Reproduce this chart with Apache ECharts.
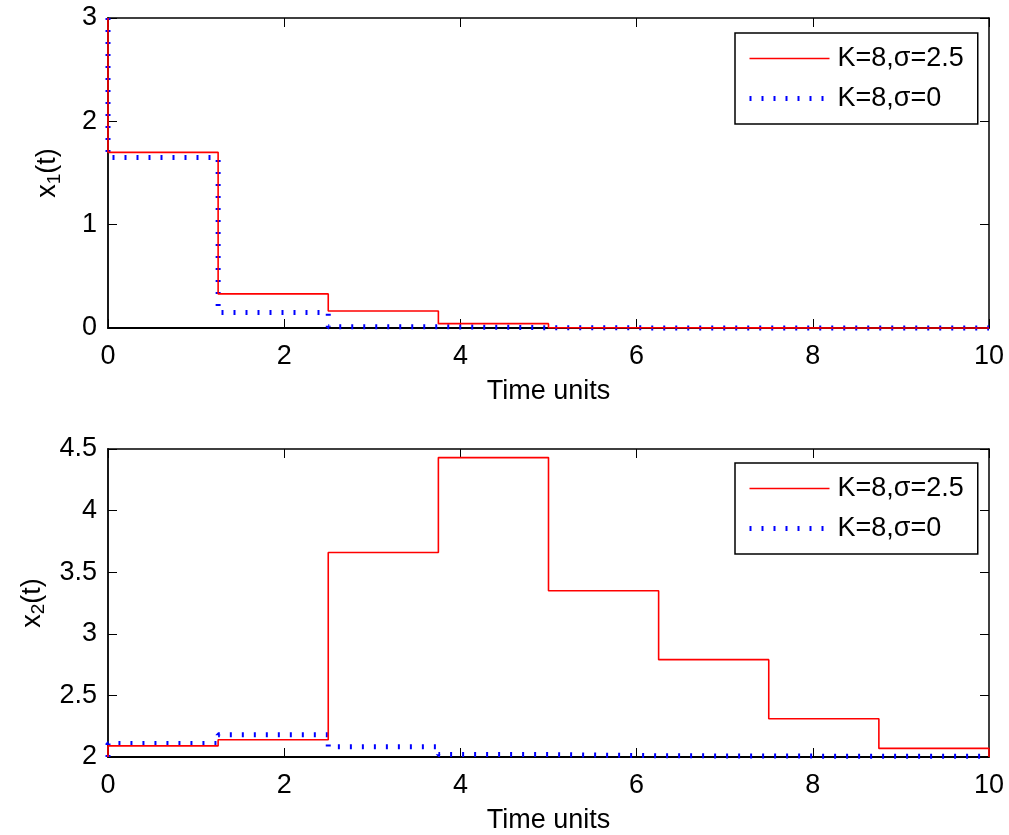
<!DOCTYPE html>
<html>
<head>
<meta charset="utf-8">
<script src="https://cdn.jsdelivr.net/npm/echarts@6/dist/echarts.min.js"></script>
<style>html,body{margin:0;padding:0;background:#fff;}#c{width:1009px;height:835px;}</style>
</head>
<body>
<div id="c"></div>
<script>
const timeSteps = [0, 0, 1.25, 2.5, 3.75, 5, 6.25, 7.5, 8.75, 10];
const x1Sigma25 = [3, 1.70, 0.33, 0.165, 0.042, 0.003, 0.001, 0, 0, 0];
const x1Sigma0  = [3, 1.65, 0.15, 0.012, 0.003, 0.001, 0, 0, 0, 0];
const x2Sigma25 = [2, 2.09, 2.14, 3.66, 4.43, 3.35, 2.79, 2.31, 2.07, 2.0];
const x2Sigma0  = [2, 2.11, 2.18, 2.083, 2.02, 2.01, 2.008, 2.006, 2.005, 2.005];
const seriesNames = ['K=8,σ=2.5', 'K=8,σ=0'];
const xTicks = {min: 0, max: 10, interval: 2};
const y1Ticks = {min: 0, max: 3, interval: 1};
const y2Ticks = {min: 2, max: 4.5, interval: 0.5};

const FONT = 'Liberation Sans, Arial, sans-serif';
const FS = 27;
const pairs = (vals) => timeSteps.map((t, i) => [t, vals[i]]);

const redStyle = {color: '#ff0000', width: 1.6};
const blueStyle = {color: '#0000ff', width: 5, type: [2, 10], cap: 'butt'};

function mainX(grid) {
  return {
    type: 'value', gridIndex: grid, min: xTicks.min, max: xTicks.max, interval: xTicks.interval,
    name: 'Time units', nameLocation: 'middle', nameGap: 50,
    nameTextStyle: {fontFamily: FONT, fontSize: FS, color: '#000'},
    axisLine: {show: true, onZero: false, lineStyle: {color: '#000', width: 1.8}},
    axisTick: {show: true, inside: true, length: 9, lineStyle: {color: '#000', width: 1}},
    axisLabel: {fontFamily: FONT, fontSize: FS, color: '#000', margin: 15},
    splitLine: {show: false}
  };
}
function boxX(grid) {
  return {
    type: 'value', gridIndex: grid, position: 'top', min: xTicks.min, max: xTicks.max, interval: xTicks.interval,
    axisLine: {show: true, onZero: false, lineStyle: {color: '#000', width: 1.5}},
    axisTick: {show: true, inside: true, length: 9, lineStyle: {color: '#000', width: 1}},
    axisLabel: {show: false}, splitLine: {show: false}
  };
}
function mainY(grid, ticks, sub, gap) {
  return {
    type: 'value', gridIndex: grid, min: ticks.min, max: ticks.max, interval: ticks.interval,
    name: '{a|x}{s|' + sub + '}{a|(t)}', nameLocation: 'middle', nameGap: gap, nameRotate: 90,
    nameTextStyle: {
      fontFamily: FONT, fontSize: FS, color: '#000',
      rich: {
        a: {fontFamily: FONT, fontSize: FS, color: '#000'},
        s: {fontFamily: FONT, fontSize: 19, color: '#000', verticalAlign: 'bottom', padding: [14, 0, 0, 0]}
      }
    },
    axisLine: {show: true, onZero: false, lineStyle: {color: '#000', width: 1.8}},
    axisTick: {show: true, inside: true, length: 9, lineStyle: {color: '#000', width: 1}},
    axisLabel: {fontFamily: FONT, fontSize: FS, color: '#000', margin: 11},
    splitLine: {show: false}
  };
}
function boxY(grid, ticks) {
  return {
    type: 'value', gridIndex: grid, position: 'right', min: ticks.min, max: ticks.max, interval: ticks.interval,
    axisLine: {show: true, onZero: false, lineStyle: {color: '#000', width: 1.5}},
    axisTick: {show: true, inside: true, length: 9, lineStyle: {color: '#000', width: 1}},
    axisLabel: {show: false}, splitLine: {show: false}
  };
}
function stepSeries(name, vals, xi, yi, style) {
  return {
    name: name, type: 'line', step: 'end', xAxisIndex: xi, yAxisIndex: yi,
    data: pairs(vals), symbol: 'none', showSymbol: false, clip: false, z: 5,
    lineStyle: style, itemStyle: {color: style.color}, animation: false
  };
}
function legendAt(top) {
  return {
    data: [
      {name: seriesNames[0], itemStyle: {opacity: 0}, lineStyle: {color: '#ff0000', width: 1.4}},
      {name: seriesNames[1], itemStyle: {opacity: 0}, lineStyle: {color: '#0000ff', width: 5, type: [2, 10], cap: 'butt'}}
    ],
    orient: 'vertical', left: 735, top: top,
    backgroundColor: '#fff', borderColor: '#000', borderWidth: 1.5, borderRadius: 0,
    padding: [12, 14, 12, 12], itemGap: 13, itemWidth: 80, itemHeight: 26,
    itemStyle: {opacity: 0},
    textStyle: {fontFamily: FONT, fontSize: FS, color: '#000', lineHeight: 26, padding: [0, 0, 0, 3]},
    selectedMode: false
  };
}

const chart = echarts.init(document.getElementById('c'), null, {renderer: 'canvas'});
chart.setOption({
  backgroundColor: '#fff',
  animation: false,
  grid: [
    {left: 108, top: 18, width: 881, height: 310},
    {left: 108, top: 449, width: 881, height: 309}
  ],
  xAxis: [mainX(0), mainX(1), boxX(0), boxX(1)],
  yAxis: [mainY(0, y1Ticks, '1', 44), mainY(1, y2Ticks, '2', 52), boxY(0, y1Ticks), boxY(1, y2Ticks)],
  legend: [legendAt(33), legendAt(463)],
  series: [
    stepSeries(seriesNames[1], x1Sigma0, 0, 0, blueStyle),
    stepSeries(seriesNames[0], x1Sigma25, 0, 0, redStyle),
    stepSeries(seriesNames[1], x2Sigma0, 1, 1, blueStyle),
    stepSeries(seriesNames[0], x2Sigma25, 1, 1, redStyle)
  ]
});
</script>
</body>
</html>
